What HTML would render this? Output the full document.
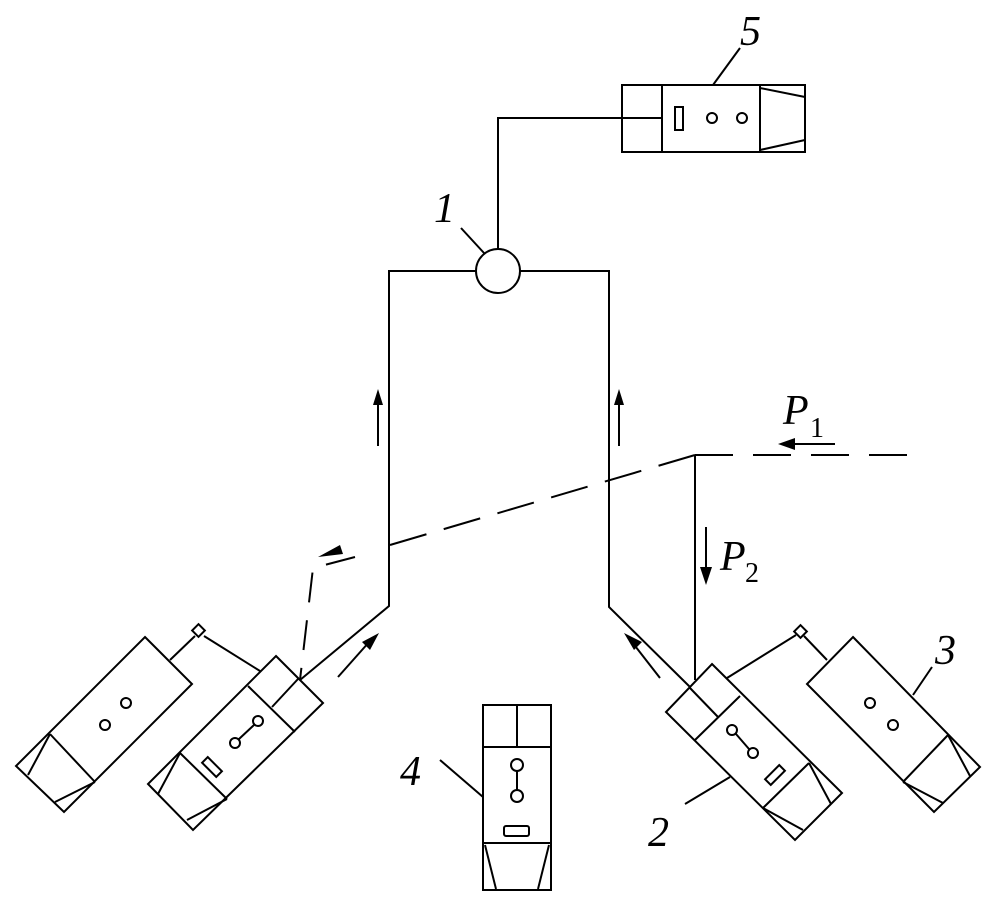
<!DOCTYPE html>
<html><head><style>body{margin:0;background:#fff}svg{display:block}text{font-family:"Liberation Serif",serif;font-style:italic;fill:#000}</style></head>
<body>
<svg width="993" height="909" viewBox="0 0 993 909" xmlns="http://www.w3.org/2000/svg">
<g fill="none" stroke="#000" stroke-width="2">
<rect x="622" y="85" width="183" height="67"/>
<line x1="662" y1="85" x2="662" y2="152"/>
<line x1="760" y1="85" x2="760" y2="152"/>
<line x1="760" y1="88" x2="805" y2="97"/>
<line x1="760" y1="150" x2="805" y2="140"/>
<rect x="675" y="107" width="8" height="23"/>
<circle cx="712" cy="118" r="5"/><circle cx="742" cy="118" r="5"/>
<line x1="713" y1="85" x2="740" y2="48"/>
<polyline points="662,118 498,118 498,249"/>
<circle cx="498" cy="271" r="22"/>
<line x1="461" y1="228" x2="484" y2="253"/>
<polyline points="476,271 389,271 389,606 300,680"/>
<polyline points="520,271 609,271 609,607 690,687"/>
<line x1="378" y1="446" x2="378" y2="395"/>
<line x1="619" y1="446" x2="619" y2="395"/>
<line x1="338" y1="677" x2="370" y2="641"/>
<line x1="660" y1="678" x2="632" y2="642"/>
<line x1="835" y1="444" x2="788" y2="444"/>
<line x1="706" y1="527" x2="706" y2="575"/>
<line x1="695" y1="455" x2="918" y2="455" stroke-dasharray="38,20"/>
<line x1="695" y1="455" x2="373" y2="550" stroke-dasharray="38,18"/>
<polyline points="355,557 313,568 300,680" stroke-dasharray="30,18"/>
<line x1="695" y1="455" x2="695" y2="680"/>
<polygon points="145,637 192,684 64,812 16,766"/>
<line x1="50" y1="734" x2="95" y2="782"/>
<line x1="50" y1="734" x2="28" y2="775"/>
<line x1="95" y1="782" x2="55" y2="802"/>
<circle cx="105" cy="725" r="5"/><circle cx="126" cy="703" r="5"/>
<polygon points="276,656 323,703 193,830 148,784"/>
<line x1="248" y1="686" x2="295" y2="732"/>
<line x1="298" y1="679" x2="272" y2="707"/>
<line x1="180" y1="753" x2="227" y2="799"/>
<line x1="180" y1="753" x2="158" y2="794"/>
<line x1="227" y1="799" x2="187" y2="820"/>
<circle cx="235" cy="743" r="5"/><circle cx="258" cy="721" r="5"/>
<line x1="239" y1="739" x2="254" y2="725"/>
<rect x="202" y="763" width="20" height="8" transform="rotate(45 212 767)"/>
<rect x="194" y="626" width="9" height="9" transform="rotate(45 198.5 630.5)"/>
<line x1="170" y1="660" x2="195" y2="636"/>
<line x1="204" y1="636" x2="260" y2="671"/>
<polygon points="712,664 842,793 795,840 666,712"/>
<line x1="740" y1="696" x2="695" y2="740"/>
<line x1="690" y1="688" x2="718" y2="717"/>
<line x1="809" y1="763" x2="763" y2="808"/>
<line x1="809" y1="763" x2="831" y2="804"/>
<line x1="763" y1="808" x2="803" y2="830"/>
<circle cx="732" cy="730" r="5"/><circle cx="753" cy="753" r="5"/>
<line x1="736" y1="734" x2="749" y2="749"/>
<rect x="765" y="771" width="20" height="8" transform="rotate(-45 775 775)"/>
<rect x="796" y="627" width="9" height="9" transform="rotate(45 800.5 631.5)"/>
<line x1="727" y1="678" x2="796" y2="635"/>
<line x1="804" y1="636" x2="827" y2="660"/>
<line x1="730" y1="777" x2="685" y2="804"/>
<polygon points="853,637 980,767 934,812 807,684"/>
<line x1="948" y1="735" x2="903" y2="782"/>
<line x1="948" y1="735" x2="970" y2="776"/>
<line x1="903" y1="782" x2="943" y2="803"/>
<circle cx="870" cy="703" r="5"/><circle cx="893" cy="725" r="5"/>
<line x1="913" y1="695" x2="932" y2="667"/>
<rect x="483" y="705" width="68" height="185"/>
<line x1="483" y1="747" x2="551" y2="747"/>
<line x1="517" y1="705" x2="517" y2="747"/>
<circle cx="517" cy="765" r="6"/><circle cx="517" cy="796" r="6"/>
<line x1="517" y1="771" x2="517" y2="790"/>
<rect x="504" y="826" width="25" height="10" rx="2"/>
<line x1="483" y1="843" x2="551" y2="843"/>
<line x1="485" y1="845" x2="496" y2="889"/>
<line x1="549" y1="845" x2="538" y2="889"/>
<line x1="440" y1="760" x2="483" y2="797"/>
</g>
<g fill="#000">
<polygon points="378,389 373,405 383,405"/>
<polygon points="619,389 614,405 624,405"/>
<polygon points="318,557 340,545 343,554"/>
<polygon points="379,633 362,642 370,650"/>
<polygon points="624,633 634,650 642,642"/>
<polygon points="778,444 795,438 795,450"/>
<polygon points="706,585 700,567 712,567"/>
</g>
<text x="740" y="45" font-size="42">5</text>
<text x="434" y="222" font-size="42">1</text>
<text x="783" y="424" font-size="42">P</text><text x="810" y="437" font-size="28" style="font-style:normal">1</text>
<text x="720" y="570" font-size="42">P</text><text x="745" y="582" font-size="28" style="font-style:normal">2</text>
<text x="935" y="664" font-size="42">3</text>
<text x="400" y="785" font-size="42">4</text>
<text x="648" y="846" font-size="42">2</text>
</svg>
</body></html>
